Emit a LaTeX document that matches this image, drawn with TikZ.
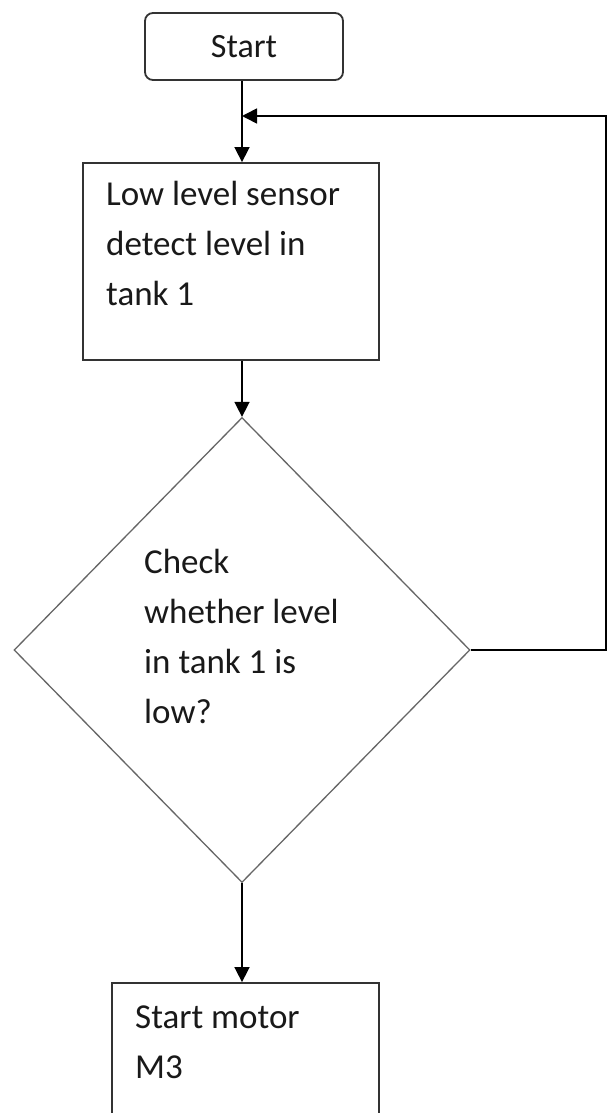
\documentclass[tikz,border=0pt]{standalone}
\usepackage{fontspec}
\setmainfont{Carlito}
\usetikzlibrary{shapes.geometric,arrows.meta}
\begin{document}
\begin{tikzpicture}[x=1pt,y=-1pt,
  boxstyle/.style={draw=black!80, line width=1.8pt, inner sep=0pt, font=\fontsize{34}{50}\selectfont, text=black!90},
  diastyle/.style={draw=black!60, line width=1.3pt, diamond, inner sep=0pt},
  conn/.style={line width=1.6pt, draw=black, -{Triangle[length=15pt,width=15pt]}},
  txt/.style={inner sep=0pt, align=left, font=\fontsize{35}{50}\selectfont, text=black!90},
]
\useasboundingbox (0,0) rectangle (609,1113);
\clip (0,0) rectangle (609,1113);
\fill[white] (0,0) rectangle (609,1113);
\coordinate (axis) at (242,0);
\node[boxstyle, rounded corners=8pt, minimum width=198pt, minimum height=67pt] (start) at (244,46.5) {Start};
\node[boxstyle, minimum width=296pt, minimum height=197pt] (b1) at (231,261.5) {};
\node[txt, anchor=north west] (b1txt) at (106,170) {\strut Low level sensor\\detect level in\\tank 1};
\node[diastyle, minimum width=456pt, minimum height=465pt] (dia) at (242,650) {};
\node[txt, anchor=north west] (diatxt) at (144,538) {\strut Check\\whether level\\in tank 1 is\\low?};
\node[boxstyle, minimum width=267pt, minimum height=147pt] (b3) at (245.5,1056.5) {};
\node[txt, anchor=north west] (b3txt) at (135,993) {\strut Start motor\\M3};
\coordinate (rc) at (606,116);
\draw[conn] (axis |- start.south) -- (axis |- b1.north);
\draw[conn] (axis |- b1.south) -- (dia.north);
\draw[conn] (dia.south) -- (axis |- b3.north);
\draw[conn] (dia.east) -- (dia.east -| rc) -- (rc) -- (axis |- rc);
\end{tikzpicture}
\end{document}
